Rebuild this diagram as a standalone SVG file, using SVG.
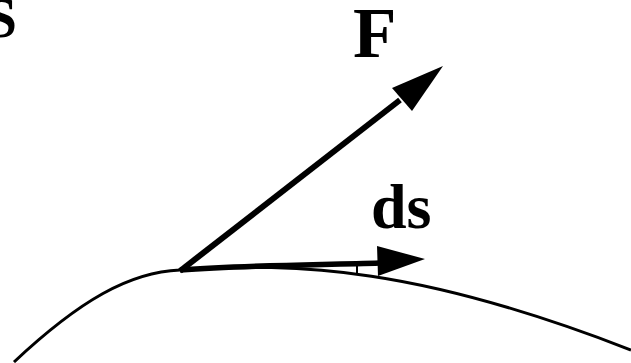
<svg xmlns="http://www.w3.org/2000/svg" width="631" height="363" viewBox="0 0 631 363">
<style>
.t{font-family:"Liberation Serif","Times New Roman",serif;font-weight:bold;fill:#000}
.ln{fill:none;stroke:#000;stroke-linecap:butt}
</style>
<rect width="631" height="363" fill="#fff"/>
<g id="curve"><path class="ln" stroke-width="3" d="M 14 362 C 80 300, 130 272, 180 270 C 300 262, 420 268, 631 350"/></g>
<g id="connectors">
<path class="ln" stroke-width="6" d="M 180 271 L 400 100"/>
<polygon points="443,66 392,88 412,111" fill="#000"/>
<path class="ln" stroke-width="5.5" d="M 180 270 C 250 265, 320 265, 380 263"/>
<polygon points="425,259 377,246 378,276" fill="#000"/>
<path class="ln" stroke-width="2" d="M 357 265 L 357 275"/>
</g>
<g id="label-S"><text class="t" x="17" y="37" font-size="56" text-anchor="end">S</text></g>
<g id="label-F"><text class="t" x="353" y="57" font-size="71">F</text></g>
<g id="label-ds"><text class="t" x="371" y="228" font-size="64">ds</text></g>
</svg>
